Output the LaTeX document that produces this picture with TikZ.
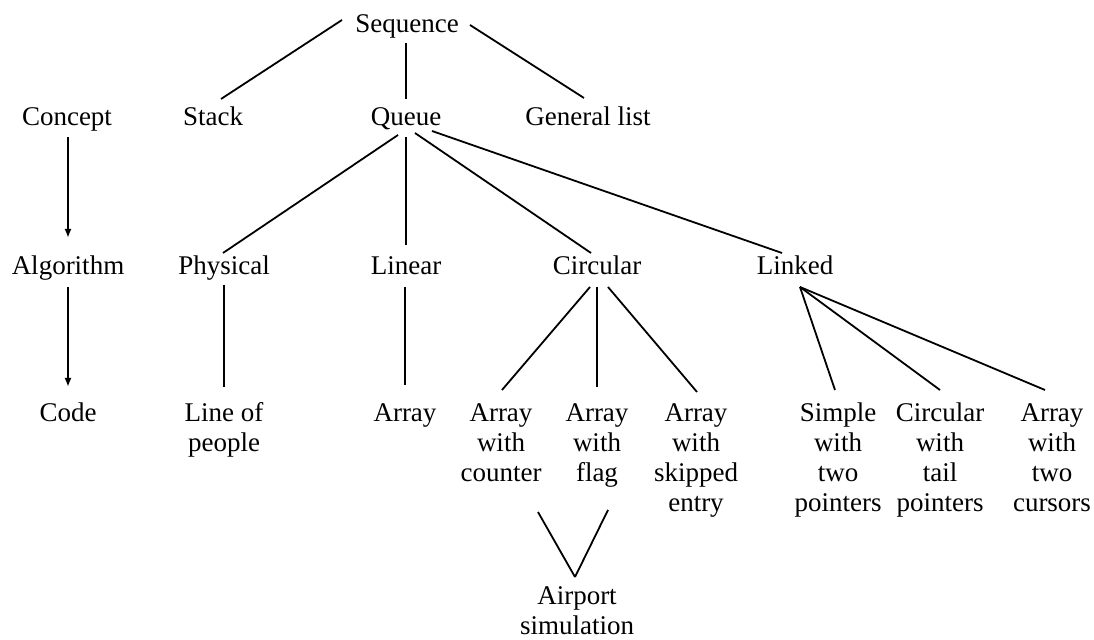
\documentclass[tikz,border=0pt]{standalone}
\usepackage{fontspec}
\setmainfont{Liberation Serif}
\usetikzlibrary{calc,arrows.meta}
\newcommand\mlines[1]{\begin{tabular}[t]{@{}c@{}}#1\end{tabular}}
\begin{document}
\begin{tikzpicture}[x=0.5pt,y=-0.5pt,
  lbl/.style={inner sep=0pt,anchor=base,font=\fontsize{13.5}{15}\selectfont},
  conn/.style={line width=0.9pt},
  flow/.style={conn,-{Latex[length=4.5pt,width=3.5pt]}}]
\useasboundingbox (0,0) rectangle (1094,640);
% nodes
\node[lbl] (seq)     at (407,33)  {Sequence};
\node[lbl] (concept) at (67,126)  {Concept};
\node[lbl] (stack)   at (213,126) {Stack};
\node[lbl] (queue)   at (406,126) {Queue};
\node[lbl] (gen)     at (588,126) {General list};
\node[lbl] (alg)     at (68,275)  {Algorithm};
\node[lbl] (phys)    at (224,275) {Physical};
\node[lbl] (lin)     at (406,275) {Linear};
\node[lbl] (circ)    at (597,275) {Circular};
\node[lbl] (linked)  at (795,275) {Linked};
\node[lbl] (code)    at (68,422)  {Code};
\node[lbl] (line)    at (224,422) {\mlines{Line of\\people}};
\node[lbl] (array)   at (405,422) {Array};
\node[lbl] (cnt)     at (501,422) {\mlines{Array\\with\\counter}};
\node[lbl] (flag)    at (597,422) {\mlines{Array\\with\\flag}};
\node[lbl] (skip)    at (696,422) {\mlines{Array\\with\\skipped\\entry}};
\node[lbl] (simple)  at (838,422) {\mlines{Simple\\with\\two\\pointers}};
\node[lbl] (ctail)   at (940,422) {\mlines{Circular\\with\\tail\\pointers}};
\node[lbl] (curs)    at (1052,422) {\mlines{Array\\with\\two\\cursors}};
\node[lbl] (air)     at (577,605) {\mlines{Airport\\simulation}};
% connectors
\draw[conn] ($(seq.base)+(-65,-13)$) -- ($(stack.base)+(8,-27)$);
\draw[conn] ($(seq.base)+(-1,10)$) -- ($(queue.base)+(0,-27)$);
\draw[conn] ($(seq.base)+(63,-8)$) -- ($(gen.base)+(-4,-28)$);
\draw[flow] ($(concept.base)+(1,11)$) -- ($(alg.base)+(0,-37)$);
\draw[flow] ($(alg.base)+(0,12)$) -- ($(code.base)+(0,-35)$);
\draw[conn] ($(queue.base)+(-8,9)$) -- ($(phys.base)+(-1,-22)$);
\draw[conn] ($(queue.base)+(0,11)$) -- ($(lin.base)+(0,-30)$);
\draw[conn] ($(queue.base)+(9,7)$) -- ($(circ.base)+(-6,-22)$);
\draw[conn] ($(queue.base)+(26,5)$) -- ($(linked.base)+(-13,-22)$);
\draw[conn] ($(phys.base)+(0,10)$) -- ($(line.base)+(0,-35)$);
\draw[conn] ($(lin.base)+(-1,12)$) -- ($(array.base)+(0,-37)$);
\draw[conn] ($(circ.base)+(-7,12)$) -- ($(cnt.base)+(1,-32)$);
\draw[conn] ($(circ.base)+(0,12)$) -- ($(flag.base)+(0,-35)$);
\draw[conn] ($(circ.base)+(11,12)$) -- ($(skip.base)+(1,-30)$);
\draw[conn] ($(linked.base)+(5,12)$) -- ($(simple.base)+(-3,-32)$);
\draw[conn] ($(linked.base)+(5,12)$) -- ($(ctail.base)+(0,-32)$);
\draw[conn] ($(linked.base)+(5,12)$) -- ($(curs.base)+(-7,-32)$);
\draw[conn] ($(cnt.base)+(37,90)$) -- ($(air.base)+(-2,-28)$);
\draw[conn] ($(flag.base)+(11,88)$) -- ($(air.base)+(-2,-28)$);
\end{tikzpicture}
\end{document}
